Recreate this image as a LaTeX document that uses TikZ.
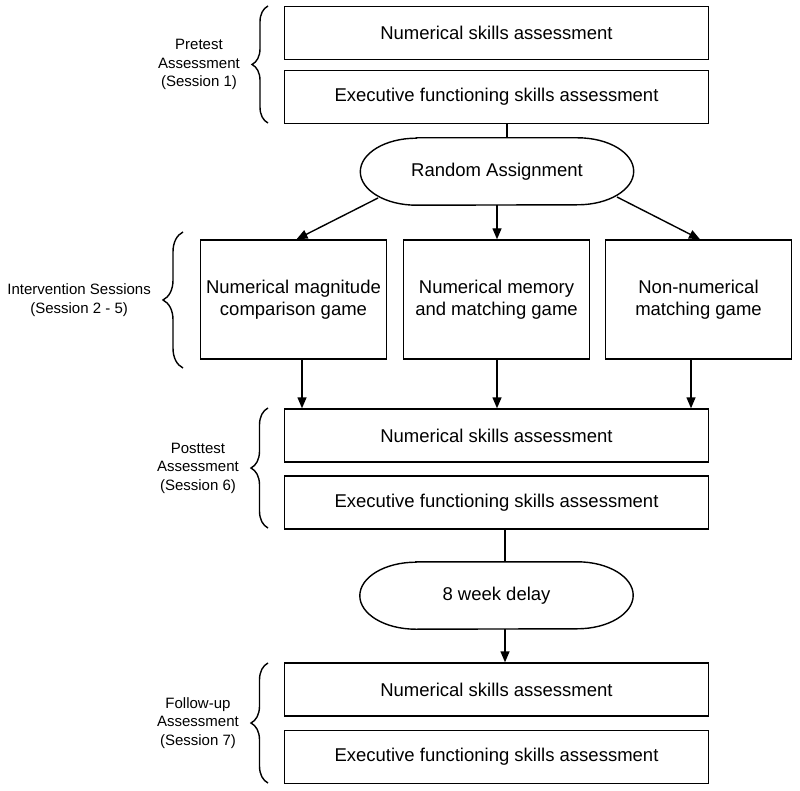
\documentclass[tikz,border=0pt]{standalone}
\usepackage{fontspec}
\setmainfont{Liberation Sans}
\usetikzlibrary{arrows.meta,decorations.pathreplacing,calc}
\begin{document}
\begin{tikzpicture}[x=1pt,y=-1pt,
  lw/.style={line width=1.4pt},
  box/.style={lw,draw,rectangle,inner sep=0pt,minimum width=424pt,minimum height=53pt,font=\fontsize{18.5}{22}\selectfont},
  game/.style={lw,draw,rectangle,inner sep=0pt,minimum width=186pt,minimum height=119pt,align=center,font=\fontsize{18.5}{22}\selectfont},
  stad/.style={inner sep=0pt,minimum width=273pt,minimum height=67pt,font=\fontsize{18.5}{22}\selectfont},
  arr/.style={lw,-{Triangle[length=11pt,width=9pt]}},
  conn/.style={lw},
  brc/.style={lw,decorate,decoration={brace,amplitude=#1}},
  lab/.style={align=center,anchor=east,inner sep=0pt,font=\fontsize{15}{18.5}\selectfont}
]
\useasboundingbox (0,0) rectangle (800,791);
\fill[white] (0,0) rectangle (800,791);

% top boxes
\node[box] (t1) at (496.5,33) {Numerical skills assessment};
\node[box] (t2) at (496.5,97) {Executive functioning skills assessment};

% random assignment
\node[stad] (ra) at (497,171.5) {Random Assignment};
\draw[lw] ([xshift=56]ra.north west) -- ([xshift=-56]ra.north east)
  arc[start angle=-90,end angle=90,x radius=56,y radius=33.5]
  -- ([xshift=56]ra.south west)
  arc[start angle=90,end angle=270,x radius=56,y radius=33.5] -- cycle;

% games
\node[game] (ga) at (293.5,299.5) {Numerical magnitude\\comparison game};
\node[game] (gb) at (496.5,299.5) {Numerical memory\\and matching game};
\node[game] (gc) at (698.5,299.5) {Non-numerical\\matching game};

% posttest
\node[box] (p1) at (496.5,435.5) {Numerical skills assessment};
\node[box] (p2) at (496.5,502.5) {Executive functioning skills assessment};

% delay
\node[stad] (dl) at (496.5,595.5) {8 week delay};
\draw[lw] ([xshift=56]dl.north west) -- ([xshift=-56]dl.north east)
  arc[start angle=-90,end angle=90,x radius=56,y radius=33.5]
  -- ([xshift=56]dl.south west)
  arc[start angle=90,end angle=270,x radius=56,y radius=33.5] -- cycle;

% follow-up
\node[box] (f1) at (496.5,689.5) {Numerical skills assessment};
\node[box] (f2) at (496.5,757) {Executive functioning skills assessment};

% connectors
\draw[conn] ([xshift=10.5]t2.south) -- ([xshift=10.5]t2.south |- ra.north);
\coordinate (raL) at (378,198);
\coordinate (raR) at (617,197);
\draw[arr] (raL) -- ([xshift=3]ga.north);
\draw[arr] (ra.south) -- (ra.south |- gb.north);
\draw[arr] ([xshift=8.5]ga.south) -- ([xshift=8.5]ga.south |- p1.north);
\draw[arr] (raR) -- ([xshift=1.5]gc.north);
\draw[arr] ([xshift=0.5]gb.south) -- ([xshift=0.5]gb.south |- p1.north);
\draw[arr] ([xshift=-7.5]gc.south) -- ([xshift=-7.5]gc.south |- p1.north);
\draw[conn] ([xshift=8.5]p2.south) -- ([xshift=8.5]p2.south |- dl.north);
\draw[arr] ([xshift=8.5]dl.south) -- ([xshift=8.5]dl.south |- f1.north);

% braces
\coordinate (b1a) at (268,123); \coordinate (b1b) at (268,6);
\draw[brc=16] (b1a) -- (b1b) coordinate[midway,xshift=-17] (b1t);
\coordinate (b2a) at (183,368); \coordinate (b2b) at (183,232);
\draw[brc=20] (b2a) -- (b2b) coordinate[midway,xshift=-21] (b2t);
\coordinate (b3a) at (268,528); \coordinate (b3b) at (268,408);
\draw[brc=17] (b3a) -- (b3b) coordinate[midway,xshift=-18] (b3t);
\coordinate (b4a) at (268,783); \coordinate (b4b) at (268,663);
\draw[brc=17] (b4a) -- (b4b) coordinate[midway,xshift=-18] (b4t);

% labels
\node[lab] (l1) at ([xshift=-11]b1t) {Pretest\\Assessment\\(Session 1)};
\node[lab] (l2) at ([xshift=-11]b2t) {Intervention Sessions\\(Session 2 - 5)};
\node[lab] (l3) at ([xshift=-11]b3t) {Posttest\\Assessment\\(Session 6)};
\node[lab] (l4) at ([xshift=-11]b4t) {Follow-up\\Assessment\\(Session 7)};
\end{tikzpicture}
\end{document}
